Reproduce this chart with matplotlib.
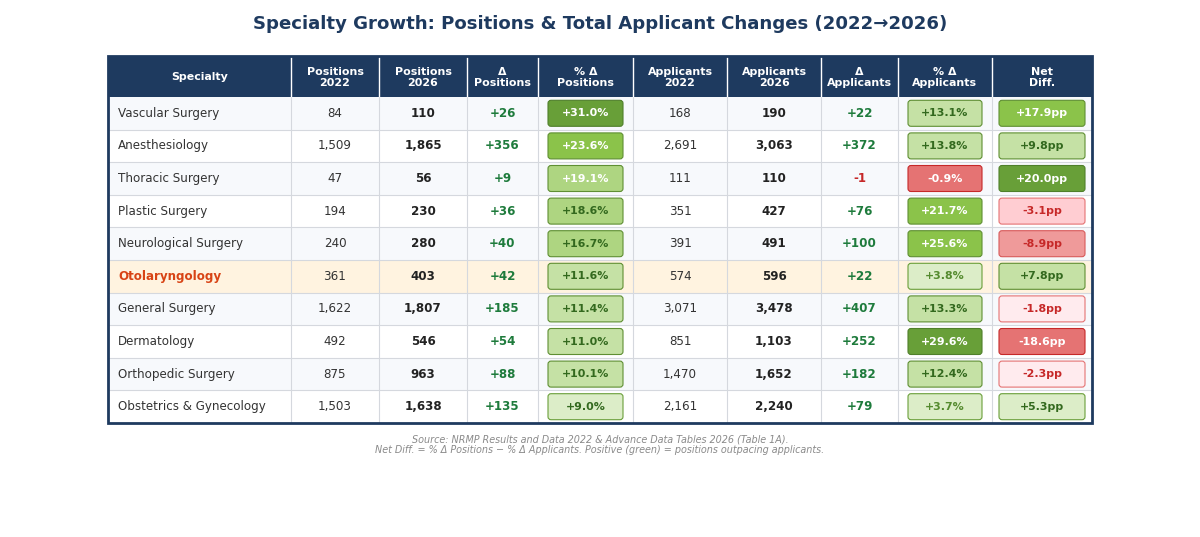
import matplotlib
matplotlib.use('agg')
import matplotlib.pyplot as plt
from matplotlib.patches import Rectangle, FancyBboxPatch

specialties = ["Vascular Surgery", "Anesthesiology", "Thoracic Surgery", "Plastic Surgery",
               "Neurological Surgery", "Otolaryngology", "General Surgery", "Dermatology",
               "Orthopedic Surgery", "Obstetrics & Gynecology"]
pos_2022 = [84, 1509, 47, 194, 240, 361, 1622, 492, 875, 1503]
pos_2026 = [110, 1865, 56, 230, 280, 403, 1807, 546, 963, 1638]
app_2022 = [168, 2691, 111, 351, 391, 574, 3071, 851, 1470, 2161]
app_2026 = [190, 3063, 110, 427, 491, 596, 3478, 1103, 1652, 2240]
pct_pos = [31.0, 23.6, 19.1, 18.6, 16.7, 11.6, 11.4, 11.0, 10.1, 9.0]
pct_app = [13.1, 13.8, -0.9, 21.7, 25.6, 3.8, 13.3, 29.6, 12.4, 3.7]
net_diff = [17.9, 9.8, 20.0, -3.1, -8.9, 7.8, -1.8, -18.6, -2.3, 5.3]
highlight = "Otolaryngology"

headers = ["Specialty", "Positions\n2022", "Positions\n2026", "Δ\nPositions", "% Δ\nPositions",
           "Applicants\n2022", "Applicants\n2026", "Δ\nApplicants", "% Δ\nApplicants", "Net\nDiff."]

NAVY = "#1e3a5f"
GREEN_TXT = "#1e7b3c"
RED_TXT = "#c62828"

# layout (pixels)
col_x = [108, 291, 379, 467, 538, 633, 727, 821, 898, 992, 1092]
head_top, head_bot, tab_bot = 56, 97, 423
n = len(specialties)
row_h = (tab_bot - head_bot) / n


def badge_style(v, vmax, vmin):
    if v >= 0:
        t = v / vmax if vmax > 0 else 0
        if t >= 0.92:
            fc, ec = "#689f38", "#4f7f2a"
        elif t >= 0.65:
            fc, ec = "#8bc34a", "#5f8f33"
        elif t >= 0.5:
            fc, ec = "#aed581", "#5f8f33"
        elif t >= 0.31:
            fc, ec = "#c5e1a5", "#5f8f33"
        else:
            fc, ec = "#dcedc8", "#6a9f3a"
        if t >= 0.61:
            tc = "white"
        elif t >= 0.2:
            tc = "#33691e"
        else:
            tc = "#558b2f"
    else:
        t = v / vmin if vmin < 0 else 0
        if t >= 0.9:
            fc, ec, tc = "#e57373", "#c62828", "white"
        elif t >= 0.3:
            fc, ec, tc = "#ef9a9a", "#d85a5a", RED_TXT
        elif t >= 0.15:
            fc, ec, tc = "#ffcdd2", "#e57373", RED_TXT
        else:
            fc, ec, tc = "#ffebee", "#e57373", RED_TXT
    return fc, ec, tc


fig = plt.figure(figsize=(12, 5.37), dpi=100)
ax = fig.add_axes([0, 0, 1, 1])
ax.set_xlim(0, 1200)
ax.set_ylim(537, 0)
ax.axis('off')

ax.text(600, 24, "Specialty Growth: Positions & Total Applicant Changes (2022→2026)",
        ha='center', va='center', fontsize=13.1, fontweight='bold', color=NAVY)

# header
ax.add_patch(Rectangle((col_x[0], head_top), col_x[-1] - col_x[0], head_bot - head_top,
                       facecolor=NAVY, edgecolor='none', zorder=1))
for j, h in enumerate(headers):
    cx = (col_x[j] + col_x[j + 1]) / 2
    ax.text(cx, (head_top + head_bot) / 2 + 1, h, ha='center', va='center', fontsize=7.9,
            fontweight='bold', color='white', linespacing=1.15, zorder=3)
    if j > 0:
        ax.plot([col_x[j], col_x[j]], [head_top + 1, head_bot - 1], color='white', lw=1.0, zorder=2)

# body
for i in range(n):
    y0 = head_bot + i * row_h
    yc = y0 + row_h / 2
    is_hl = specialties[i] == highlight
    bg = "#fff3e0" if is_hl else ("#f7f9fc" if i % 2 == 0 else "white")
    ax.add_patch(Rectangle((col_x[0], y0), col_x[-1] - col_x[0], row_h,
                           facecolor=bg, edgecolor='none', zorder=0))
    if i > 0:
        ax.plot([col_x[0], col_x[-1]], [y0, y0], color="#d5d8de", lw=0.8, zorder=1)

    if is_hl:
        ax.text(col_x[0] + 10, yc, specialties[i], ha='left', va='center', fontsize=8.6,
                fontweight='bold', color="#d84315")
    else:
        ax.text(col_x[0] + 10, yc, specialties[i], ha='left', va='center', fontsize=8.6,
                color="#333333")

    d_pos = pos_2026[i] - pos_2022[i]
    d_app = app_2026[i] - app_2022[i]
    cells = [
        (1, f"{pos_2022[i]:,}", 'normal', "#333333"),
        (2, f"{pos_2026[i]:,}", 'bold', "#222222"),
        (3, f"{d_pos:+,}", 'bold', GREEN_TXT if d_pos >= 0 else RED_TXT),
        (5, f"{app_2022[i]:,}", 'normal', "#333333"),
        (6, f"{app_2026[i]:,}", 'bold', "#222222"),
        (7, f"{d_app:+,}", 'bold', GREEN_TXT if d_app >= 0 else RED_TXT),
    ]
    for j, s, w, c in cells:
        ax.text((col_x[j] + col_x[j + 1]) / 2, yc, s, ha='center', va='center',
                fontsize=8.6, fontweight=w, color=c)

    badges = [
        (4, pct_pos, f"{pct_pos[i]:+.1f}%", 10),
        (8, pct_app, f"{pct_app[i]:+.1f}%", 10),
        (9, net_diff, f"{net_diff[i]:+.1f}pp", 7),
    ]
    for j, vals, s, pad in badges:
        fc, ec, tc = badge_style(vals[i], max(vals), min(vals))
        bx0 = col_x[j] + pad
        bw = col_x[j + 1] - col_x[j] - 2 * pad
        ax.add_patch(FancyBboxPatch((bx0, y0 + 3.3), bw, row_h - 6.6,
                                    boxstyle="round,pad=0,rounding_size=3",
                                    facecolor=fc, edgecolor=ec, lw=0.8, zorder=2))
        ax.text(bx0 + bw / 2, yc, s, ha='center', va='center', fontsize=7.9,
                fontweight='bold', color=tc, zorder=3)

# vertical grid lines in body
for x in col_x[1:-1]:
    ax.plot([x, x], [head_bot, tab_bot], color="#d5d8de", lw=0.8, zorder=1)

# outer border
ax.add_patch(Rectangle((col_x[0], head_top), col_x[-1] - col_x[0], tab_bot - head_top,
                       facecolor='none', edgecolor=NAVY, lw=2, zorder=4))

ax.text(600, 445, "Source: NRMP Results and Data 2022 & Advance Data Tables 2026 (Table 1A).\n"
        "Net Diff. = % Δ Positions − % Δ Applicants. Positive (green) = positions outpacing applicants.",
        ha='center', va='center', fontsize=6.9, style='italic', color="#8a8a8a", linespacing=1.1)

fig.savefig("out.png", dpi=100)
